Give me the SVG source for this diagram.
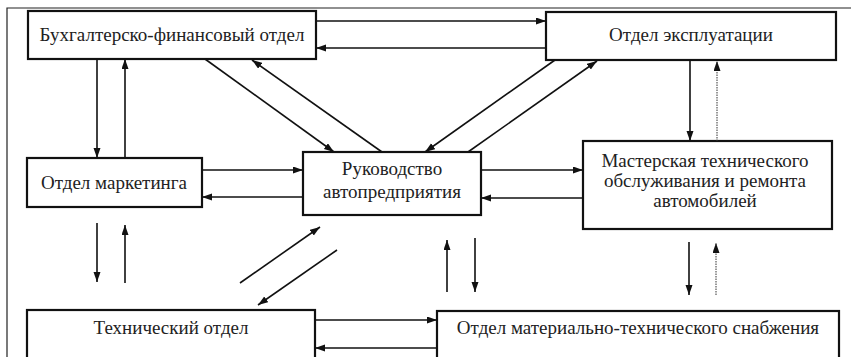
<svg xmlns="http://www.w3.org/2000/svg" width="851" height="357" viewBox="0 0 851 357">
<defs>
<marker id="ah" markerUnits="userSpaceOnUse" markerWidth="11" markerHeight="8" refX="10" refY="3.5" orient="auto">
<path d="M0,0 L10,3.5 L0,7 Z" fill="#111"/>
</marker>
<style>
.box{fill:#fff;stroke:#111;stroke-width:2.2}
.t{font-family:'Liberation Serif','DejaVu Serif','Times New Roman',serif;font-size:19px;fill:#222;text-anchor:middle}
.c{stroke:#111;stroke-width:1.6;fill:none;marker-end:url(#ah)}
.d{stroke:#333;stroke-width:1;stroke-dasharray:1.5 1;fill:none;marker-end:url(#ah)}
.frame{stroke:#222;stroke-width:1.2;fill:none}
</style>
</defs>
<rect width="851" height="357" fill="#fff"/>
<path class="frame" d="M7,357 L7,8 L851,8"/>
<g font-family="Liberation Serif, DejaVu Serif, serif">
<g id="n1"><rect class="box" x="28" y="11" width="288" height="48"/><text class="t" x="172" y="41">Бухгалтерско-финансовый отдел</text></g>
<g id="n2"><rect class="box" x="546" y="12" width="290" height="48"/><text class="t" x="691" y="41">Отдел эксплуатации</text></g>
<g id="n3"><rect class="box" x="27" y="158" width="175" height="49"/><text class="t" x="114" y="189">Отдел маркетинга</text></g>
<g id="n4"><rect class="box" x="303" y="152" width="178" height="63"/><text class="t" x="392" y="175">Руководство</text><text class="t" x="392" y="198">автопредприятия</text></g>
<g id="n5"><rect class="box" x="583" y="141" width="249" height="88"/><text class="t" x="705" y="167">Мастерская технического</text><text class="t" x="705" y="187">обслуживания и ремонта</text><text class="t" x="705" y="207">автомобилей</text></g>
<g id="n6"><rect class="box" x="27" y="310" width="288" height="60"/><text class="t" x="171" y="334">Технический отдел</text></g>
<g id="n7"><rect class="box" x="437" y="311" width="402" height="60"/><text class="t" x="638" y="334">Отдел материально-технического снабжения</text></g>
</g>
<g id="connectors">
<line class="c" x1="316" y1="21" x2="546" y2="21"/>
<line class="c" x1="546" y1="48" x2="316" y2="48"/>
<line class="c" x1="97" y1="59" x2="97" y2="158"/>
<line class="c" x1="125" y1="158" x2="125" y2="59"/>
<line class="c" x1="205" y1="59" x2="334" y2="152"/>
<line class="c" x1="382" y1="152" x2="252" y2="60"/>
<line class="c" x1="555" y1="60" x2="425" y2="152"/>
<line class="c" x1="468" y1="152" x2="597" y2="61"/>
<line class="c" x1="690" y1="60" x2="690" y2="141"/>
<line class="d" x1="717" y1="141" x2="717" y2="61"/>
<line class="c" x1="202" y1="170" x2="303" y2="170"/>
<line class="c" x1="303" y1="197" x2="202" y2="197"/>
<line class="c" x1="481" y1="170" x2="583" y2="170"/>
<line class="c" x1="583" y1="198" x2="481" y2="198"/>
<line class="c" x1="97" y1="223" x2="97" y2="282"/>
<line class="c" x1="125" y1="283" x2="125" y2="225"/>
<line class="c" x1="240" y1="283" x2="320" y2="227"/>
<line class="c" x1="337" y1="250" x2="258" y2="305"/>
<line class="c" x1="447" y1="292" x2="447" y2="240"/>
<line class="c" x1="475" y1="238" x2="475" y2="292"/>
<line class="c" x1="689" y1="242" x2="689" y2="295"/>
<line class="d" x1="716" y1="295" x2="716" y2="243"/>
<line class="c" x1="315" y1="320" x2="437" y2="320"/>
<line class="c" x1="437" y1="348" x2="315" y2="348"/>
</g>
</svg>
